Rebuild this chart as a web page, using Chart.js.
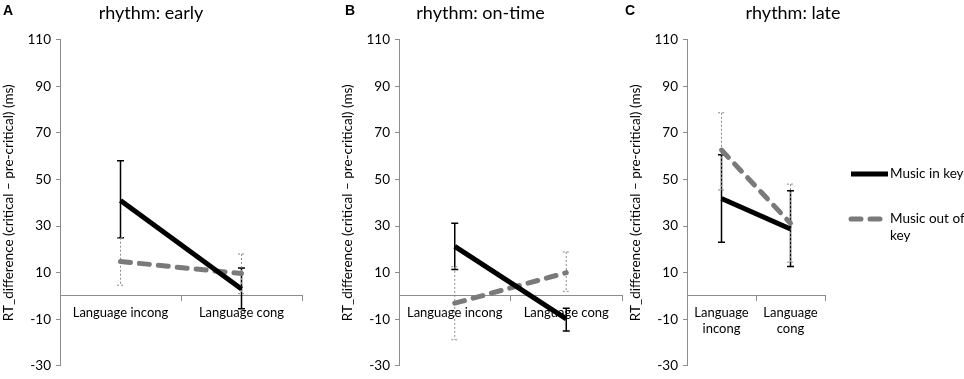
<!DOCTYPE html>
<html>
<head>
<meta charset="utf-8">
<script src="https://cdn.jsdelivr.net/npm/chart.js@4.4.1/dist/chart.umd.min.js"></script>
<style>
  body { margin: 0; background: #fff; }
  #wrap { position: relative; width: 964px; height: 379px; overflow: hidden; }
  canvas { position: absolute; top: 0; }
  .tag { position: absolute; top: 2px; font: bold 14px "Liberation Sans", Arial, sans-serif; color: #000; }
</style>
</head>
<body>
<div id="wrap">
  <canvas id="panelA" width="310" height="379" style="left:0"></canvas>
  <canvas id="panelB" width="290" height="379" style="left:339px"></canvas>
  <canvas id="panelC" width="337" height="379" style="left:627px"></canvas>
  <div class="tag" style="left:3px">A</div>
  <div class="tag" style="left:345px">B</div>
  <div class="tag" style="left:625px">C</div>
</div>
<script>
// categories and tick labels
const categories = ['Language incong', 'Language cong'];
const categoriesLate = [['Language', 'incong'], ['Language', 'cong']];
const yTicks = [-30, -10, 10, 30, 50, 70, 90, 110];
const seriesNames = ['Music in key', 'Music out of key'];

// rhythm: early
const earlyInKey = [41, 3];
const earlyInKeyHi = [58, 12];
const earlyInKeyLo = [25, -5.5];
const earlyOutKey = [14.8, 9.6];
const earlyOutKeyHi = [25, 18];
const earlyOutKeyLo = [4.6, 1];

// rhythm: on-time
const onTimeInKey = [21.3, -9.8];
const onTimeInKeyHi = [31.2, -5.3];
const onTimeInKeyLo = [11.4, -15];
const onTimeOutKey = [-3.1, 10];
const onTimeOutKeyHi = [12.5, 18.9];
const onTimeOutKeyLo = [-18.8, 2];

// rhythm: late
const lateInKey = [41.8, 28.7];
const lateInKeyHi = [60.6, 45.2];
const lateInKeyLo = [23, 12.7];
const lateOutKey = [62.6, 31.2];
const lateOutKeyHi = [78.6, 48];
const lateOutKeyLo = [45.5, 14.5];

Chart.defaults.font.family = 'Lato, "Open Sans", sans-serif';
Chart.defaults.color = '#000';

const axisGray = '#8c8c8c';

// vertical error bars with caps, drawn under the lines
const errorBars = {
  id: 'errorBars',
  beforeDatasetsDraw(chart) {
    const ctx = chart.ctx;
    const xs = chart.scales.x, ys = chart.scales.y;
    chart.data.datasets.forEach(ds => {
      ctx.save();
      ctx.strokeStyle = ds.errColor;
      ctx.lineWidth = ds.errWidth;
      ctx.setLineDash(ds.errDash);
      ds.errHi.forEach((hi, j) => {
        const px = xs.getPixelForValue(j);
        const top = ys.getPixelForValue(hi);
        const bot = ys.getPixelForValue(ds.errLo[j]);
        ctx.beginPath();
        ctx.moveTo(px, top); ctx.lineTo(px, bot);
        ctx.moveTo(px - 3.5, top); ctx.lineTo(px + 3.5, top);
        ctx.moveTo(px - 3.5, bot); ctx.lineTo(px + 3.5, bot);
        ctx.stroke();
      });
      ctx.restore();
    });
  }
};

// legend at the right of the last panel, with wrapped labels
const sideLegend = {
  id: 'sideLegend',
  afterDraw(chart, args, opts) {
    const ctx = chart.ctx;
    ctx.save();
    ctx.font = '13.5px Lato';
    ctx.fillStyle = '#000';
    ctx.textBaseline = 'middle';
    chart.data.datasets.forEach((ds, i) => {
      const y = opts.top + i * opts.gap;
      ctx.save();
      ctx.strokeStyle = ds.borderColor;
      ctx.lineWidth = ds.borderWidth;
      ctx.lineCap = ds.borderCapStyle;
      ctx.setLineDash(ds.borderDash || []);
      ctx.beginPath();
      ctx.moveTo(opts.x, y);
      ctx.lineTo(opts.x + opts.lineLen, y);
      ctx.stroke();
      ctx.restore();
      // simple word wrap
      const words = ds.label.split(' ');
      let line = '', ly = y;
      words.forEach(w => {
        const test = line ? line + ' ' + w : w;
        if (line && ctx.measureText(test).width > opts.maxWidth) {
          ctx.fillText(line, opts.x + opts.lineLen + 2, ly);
          line = w; ly += 17;
        } else {
          line = test;
        }
      });
      ctx.fillText(line, opts.x + opts.lineLen + 2, ly);
    });
    ctx.restore();
  }
};

function inKeySeries(data, hi, lo) {
  return {
    label: seriesNames[0], data, errHi: hi, errLo: lo,
    borderColor: '#000', borderWidth: 5, borderCapStyle: 'butt',
    errColor: '#000', errWidth: 1.5, errDash: [],
    pointRadius: 0, tension: 0, fill: false
  };
}

function outKeySeries(data, hi, lo) {
  return {
    label: seriesNames[1], data, errHi: hi, errLo: lo,
    borderColor: '#7a7a7a', borderWidth: 5, borderDash: [10, 9], borderCapStyle: 'round',
    errColor: '#8a8a8a', errWidth: 1, errDash: [2, 2],
    pointRadius: 0, tension: 0, fill: false
  };
}

function makePanel(id, labels, titleText, inKey, outKey, extra) {
  const scales = {
    x: {
      type: 'category',
      position: { y: 0 },
      offset: true,
      grid: { offset: true, drawOnChartArea: false, tickLength: 5, color: axisGray },
      border: { color: axisGray, width: 1 },
      ticks: { padding: 4, font: { size: 13 }, color: '#000', maxRotation: 0, autoSkip: false }
    },
    y: {
      type: 'linear',
      position: 'left',
      min: -30,
      max: 110,
      afterBuildTicks: s => { s.ticks = yTicks.map(v => ({ value: v })); },
      afterFit: s => { s.width = 60; },
      grid: { drawOnChartArea: false, tickLength: 4, color: axisGray },
      border: { color: axisGray, width: 1 },
      ticks: { padding: 5, font: { size: 13.5 }, color: '#000' },
      title: {
        display: true,
        text: 'RT_difference (critical \u2013 pre-critical) (ms)',
        font: { size: 13.5 },
        color: '#000',
        padding: { top: 1, bottom: 0 }
      }
    }
  };
  if (extra.spacer) {
    scales.spacer = {
      type: 'linear', position: 'right', display: true,
      grid: { display: false }, border: { display: false }, ticks: { display: false },
      afterFit: s => { s.width = extra.spacer; }
    };
  }
  return new Chart(document.getElementById(id), {
    type: 'line',
    data: { labels, datasets: [inKey, outKey] },
    options: {
      responsive: false,
      animation: false,
      layout: { padding: { left: 0, right: extra.padRight, top: 0, bottom: 9.5 } },
      scales,
      plugins: {
        legend: { display: false },
        tooltip: { enabled: false },
        title: {
          display: true,
          text: titleText,
          font: { size: 18, weight: 'normal' },
          color: '#000',
          padding: { top: 2, bottom: 16 }
        },
        sideLegend: extra.legend || {}
      }
    },
    plugins: extra.legend ? [errorBars, sideLegend] : [errorBars]
  });
}

makePanel('panelA', categories, 'rhythm: early',
  inKeySeries(earlyInKey, earlyInKeyHi, earlyInKeyLo),
  outKeySeries(earlyOutKey, earlyOutKeyHi, earlyOutKeyLo),
  { padRight: 8 });

makePanel('panelB', categories, 'rhythm: on-time',
  inKeySeries(onTimeInKey, onTimeInKeyHi, onTimeInKeyLo),
  outKeySeries(onTimeOutKey, onTimeOutKeyHi, onTimeOutKeyLo),
  { padRight: 7 });

makePanel('panelC', categoriesLate, 'rhythm: late',
  inKeySeries(lateInKey, lateInKeyHi, lateInKeyLo),
  outKeySeries(lateOutKey, lateOutKeyHi, lateOutKeyLo),
  { padRight: 5, spacer: 134, legend: { x: 224, top: 174, gap: 45, lineLen: 37, maxWidth: 75 } });
</script>
</body>
</html>
